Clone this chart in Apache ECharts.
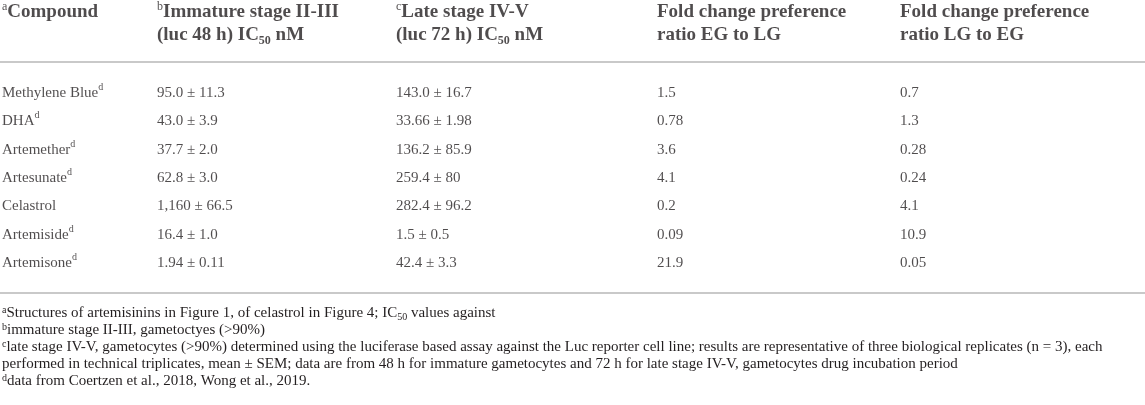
<!DOCTYPE html>
<html>
	<head>
		<meta charset="UTF-8">
		<title></title>
		<style type="text/css">
			html,body{margin:0;padding:0;background:#fff;}
			#main{width:1145px;height:405px;}
		</style>
	</head>
	<body>
		<div id="main"></div>
	</body>
	<script type="text/javascript" src="https://cdn.jsdelivr.net/npm/echarts@6/dist/echarts.min.js"></script>
	<script>
	// table data
	var compounds=['Methylene Blue','DHA','Artemether','Artesunate','Celastrol','Artemiside','Artemisone'];
	var fromRef=[true,true,true,true,false,true,true]; // footnote d
	var immature=['95.0 ± 11.3','43.0 ± 3.9','37.7 ± 2.0','62.8 ± 3.0','1,160 ± 66.5','16.4 ± 1.0','1.94 ± 0.11'];
	var late=['143.0 ± 16.7','33.66 ± 1.98','136.2 ± 85.9','259.4 ± 80','282.4 ± 96.2','1.5 ± 0.5','42.4 ± 3.3'];
	var egToLg=['1.5','0.78','3.6','4.1','0.2','0.09','21.9'];
	var lgToEg=['0.7','1.3','0.28','0.24','4.1','10.9','0.05'];

	var headers=[
		'{sup|a}{h|Compound}',
		'{sup|b}{h|Immature stage II-III}\n{h|(luc 48 h) IC}{sub|50}{h| nM}',
		'{sup|c}{h|Late stage IV-V}\n{h|(luc 72 h) IC}{sub|50}{h| nM}',
		'{h|Fold change preference}\n{h|ratio EG to LG}',
		'{h|Fold change preference}\n{h|ratio LG to EG}'
	];
	var footnotes=[
		'{sup|a}{t|Structures of artemisinins in Figure 1, of celastrol in Figure 4; IC}{sub|50}{t| values against}',
		'{sup|b}{t|immature stage II-III, gametoctyes (>90%)}',
		'{sup|c}{t|late stage IV-V, gametocytes (>90%) determined using the luciferase based assay against the Luc reporter cell line; results are representative of three biological replicates (n = 3), each}',
		'{t|performed in technical triplicates, mean ± SEM; data are from 48 h for immature gametocytes and 72 h for late stage IV-V, gametocytes drug incubation period}',
		'{sup|d}{t|data from Coertzen et al., 2018, Wong et al., 2019.}'
	];

	// layout
	var W=1145;
	var colLeft=[2,157,396,657,900];
	var ink='#231f20';
	var ruleColor='#c9c9c9';
	var serif='Liberation Serif';

	var columns=[
		function(i){return '{n|'+compounds[i]+'}'+(fromRef[i]?'{s|d}':'');},
		function(i){return '{n|'+immature[i]+'}';},
		function(i){return '{n|'+late[i]+'}';},
		function(i){return '{n|'+egToLg[i]+'}';},
		function(i){return '{n|'+lgToEg[i]+'}';}
	];

	var cellRich={
		n:{fontFamily:serif,fontSize:15,lineHeight:21,color:ink},
		s:{fontFamily:serif,fontSize:10,lineHeight:13,verticalAlign:'top',color:ink}
	};
	var headRich={
		h:{fontFamily:serif,fontWeight:'bold',fontSize:19,lineHeight:23,color:ink},
		sup:{fontFamily:serif,fontSize:12,lineHeight:12,verticalAlign:'top',color:ink},
		sub:{fontFamily:serif,fontWeight:'bold',fontSize:12,lineHeight:12,verticalAlign:'bottom',color:ink}
	};
	var noteRich={
		t:{fontFamily:serif,fontSize:15,lineHeight:17,color:ink},
		sup:{fontFamily:serif,fontSize:10,lineHeight:10,verticalAlign:'top',color:ink},
		sub:{fontFamily:serif,fontSize:10,lineHeight:10,verticalAlign:'bottom',color:ink}
	};

	var series=[];
	// header cells
	series.push({
		type:'scatter',xAxisIndex:0,yAxisIndex:0,symbolSize:0,silent:true,
		data:headers.map(function(h,c){return [colLeft[c],0];}),
		label:{show:true,position:'right',distance:0,verticalAlign:'top',
			formatter:function(p){return headers[p.dataIndex];},rich:headRich}
	});
	// body cells
	columns.forEach(function(fn,c){
		series.push({
			type:'scatter',xAxisIndex:1,yAxisIndex:1,symbolSize:0,silent:true,
			data:compounds.map(function(name,i){return [colLeft[c],i];}),
			label:{show:true,position:'right',distance:0,
				formatter:function(p){return fn(p.dataIndex);},rich:cellRich}
		});
	});

	var hidden={show:false};
	var rule={show:true,onZero:false,lineStyle:{color:ruleColor,width:2}};
	var myChart=echarts.init(document.getElementById('main'));
	var option={
		animation:false,
		backgroundColor:'#fff',
		grid:[
			{left:0,right:0,top:1,height:59},
			{left:0,right:0,top:62,height:231}
		],
		xAxis:[
			{gridIndex:0,type:'value',min:0,max:W,axisLine:hidden,axisTick:hidden,axisLabel:hidden,splitLine:hidden},
			{gridIndex:1,type:'value',min:0,max:W,position:'top',axisLine:rule,axisTick:hidden,axisLabel:hidden,splitLine:hidden},
			{gridIndex:1,type:'value',min:0,max:W,position:'bottom',axisLine:rule,axisTick:hidden,axisLabel:hidden,splitLine:hidden}
		],
		yAxis:[
			{gridIndex:0,type:'value',inverse:true,min:0,max:1,show:false},
			{gridIndex:1,type:'value',inverse:true,min:-1.094,max:7.06,show:false}
		],
		graphic:[{
			type:'text',left:2,top:305,silent:true,
			style:{text:footnotes.join('\n'),rich:noteRich,fill:ink}
		}],
		series:series
	};
	myChart.setOption(option);
	</script>
</html>
